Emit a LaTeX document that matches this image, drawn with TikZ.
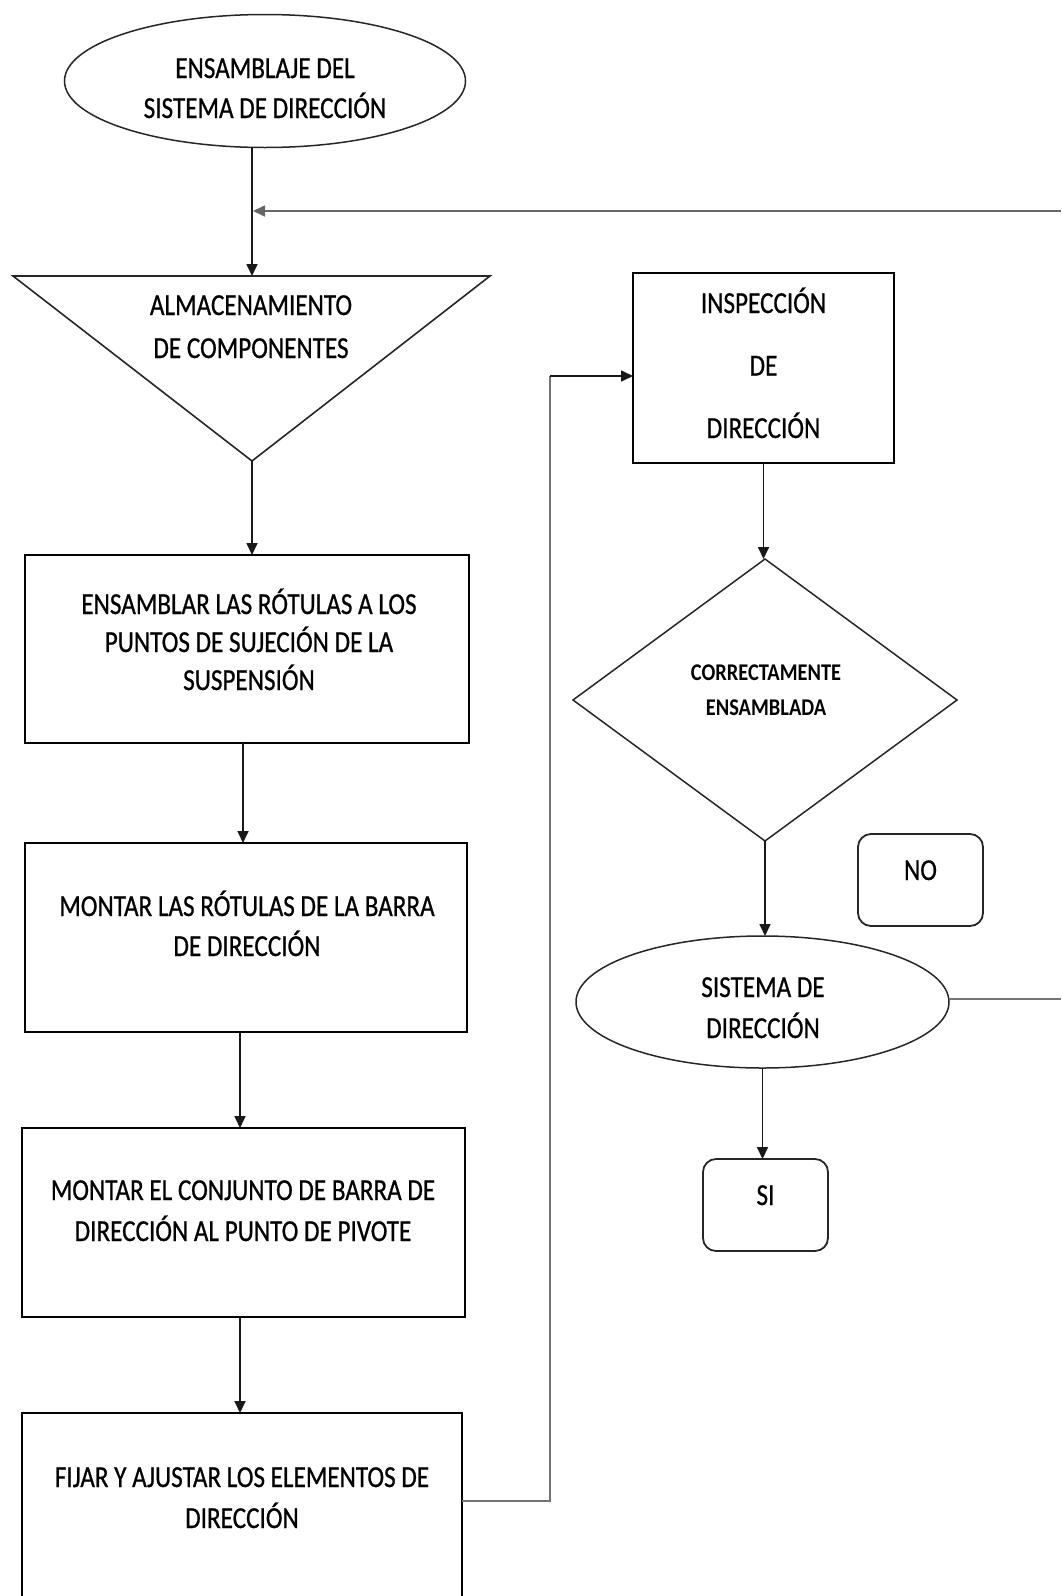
\documentclass[tikz,border=0pt]{standalone}
\usepackage{fontspec}
\setmainfont{Carlito}[FakeStretch=0.825,FakeBold=0.7]
\newfontfamily\decisionfont{Carlito}[FakeStretch=0.85]
\usetikzlibrary{arrows.meta,shapes.geometric}

% invisible strut that fixes the height of a first text line
\newcommand\firstline{\rule{0pt}{27pt}}
\newcommand\firstsmall{\rule{0pt}{21pt}}

\begin{document}
\begin{tikzpicture}[x=1pt,y=-1pt,
  every node/.style={inner sep=0pt,outer sep=0pt},
  procbox/.style={draw=black,line width=2pt,rectangle},
  endbox/.style={draw=black!85,line width=1.8pt,rectangle,rounded corners=13pt},
  terminal/.style={draw=black!85,line width=1.5pt,ellipse},
  decision/.style={draw=black!85,line width=1.5pt,diamond},
  label/.style={anchor=north,align=center,text=black,font=\fontsize{30.5}{40}\selectfont},
  arr/.style={draw=black!90,line width=1.7pt,-{Triangle[length=12pt,width=11pt]}},
  thin/.style={draw=black!55,line width=1.7pt},
]
\useasboundingbox (0,0) rectangle (1061,1596);

% ---- shapes of the left column ----
\node[terminal,minimum width=401pt,minimum height=133pt] (e1) at (265,81) {};
\node[label] (te1) at (265,51) {\firstline ENSAMBLAJE DEL\\SISTEMA DE DIRECCIÓN};

\coordinate (triL) at (13,276);
\coordinate (triR) at (490,276);
\coordinate (triTop) at (252,276);
\coordinate (triApex) at (252,461);
\draw[black!85,line width=1.6pt,line join=miter] (triL) -- (triR) -- (triApex) -- cycle;
\node[label,font=\fontsize{30.5}{43}\selectfont] (ttri) at (251,288) {\firstline ALMACENAMIENTO\\DE COMPONENTES};

\node[procbox,minimum width=444pt,minimum height=188pt] (b1) at (247,649) {};
\node[label,font=\fontsize{30.5}{38}\selectfont] (tb1) at (249,587)
  {\firstline ENSAMBLAR LAS RÓTULAS A LOS\\PUNTOS DE SUJECIÓN DE LA\\SUSPENSIÓN};

\node[procbox,minimum width=442pt,minimum height=189pt] (b2) at (246,937.5) {};
\node[label] (tb2) at (247,889) {\firstline MONTAR LAS RÓTULAS DE LA BARRA\\DE DIRECCIÓN};

\node[procbox,minimum width=443pt,minimum height=189pt] (b3) at (243.5,1222.5) {};
\node[label,font=\fontsize{30.5}{41}\selectfont] (tb3) at (243,1173)
  {\firstline MONTAR EL CONJUNTO DE BARRA DE\\DIRECCIÓN AL PUNTO DE PIVOTE};

\node[procbox,minimum width=440pt,minimum height=197pt] (b4) at (242,1511.5) {};
\node[label,font=\fontsize{30.5}{41}\selectfont] (tb4) at (242,1460)
  {\firstline FIJAR Y AJUSTAR LOS ELEMENTOS DE\\DIRECCIÓN};

% ---- shapes of the right column ----
\node[procbox,minimum width=261pt,minimum height=190pt] (insp) at (763.5,368) {};
\node[label,font=\fontsize{30.5}{62.5}\selectfont] (tinsp) at (763.5,286)
  {\firstline INSPECCIÓN\\DE\\DIRECCIÓN};

\node[decision,minimum width=384pt,minimum height=282pt] (dia) at (765,700) {};
\node[label,font=\decisionfont\bfseries\fontsize{24}{35}\selectfont] (tdia) at (766,659)
  {\firstsmall CORRECTAMENTE\\ENSAMBLADA};

\node[endbox,minimum width=125pt,minimum height=92pt] (no) at (920.5,880) {};
\node[label] (tno) at (920.5,853) {\firstline NO};

\node[terminal,minimum width=373pt,minimum height=132pt] (e2) at (762.5,1002) {};
\node[label,font=\fontsize{30.5}{41}\selectfont] (te2) at (763,970) {\firstline SISTEMA DE\\DIRECCIÓN};

\node[endbox,minimum width=125pt,minimum height=92pt] (si) at (765.5,1205) {};
\node[label] (tsi) at (765.5,1178) {\firstline SI};

% ---- connectors ----
\coordinate (fbR) at (1061,211);
\coordinate (fbL) at (253,211);
\coordinate (retR) at (1061,999);
\coordinate (loopTop) at (550,376);

\draw[arr] (triTop |- e1.south) -- (triTop);
\draw[arr,draw=black!60] (fbR) -- (fbL);
\draw[arr] (triApex) -- (triApex |- b1.north);
\draw[arr] ([xshift=-4pt]b1.south) -- ([xshift=-4pt]b1.south |- b2.north);
\draw[arr] ([xshift=-6pt]b2.south) -- ([xshift=-6pt]b2.south |- b3.north);
\draw[arr] ([xshift=-3.5pt]b3.south) -- ([xshift=-3.5pt]b3.south |- b4.north);
\draw[thin] ([yshift=10.5pt]b4.east) -| (loopTop);
\draw[arr] (loopTop) -- (loopTop -| insp.west);
\draw[arr] (insp.south) -- (insp.south |- dia.north);
\draw[arr] (dia.south) -- (dia.south |- e2.north);
\draw[arr] (e2.south) -- (e2.south |- si.north);
\draw[thin] (retR -| e2.east) -- (retR);
\end{tikzpicture}
\end{document}
